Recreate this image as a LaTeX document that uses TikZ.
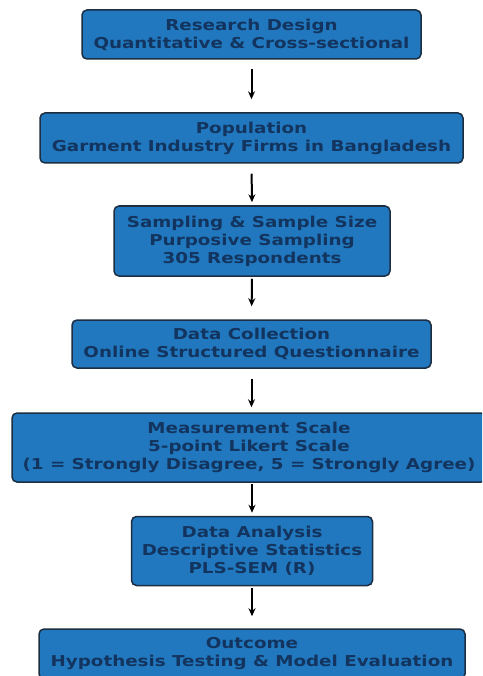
\documentclass[tikz,border=0pt]{standalone}
\usepackage{fontspec}
\usetikzlibrary{arrows.meta,calc}
\newfontfamily\boxfont[FakeStretch=1.22]{DejaVu Sans Bold}
\definecolor{boxblue}{HTML}{2178BE}
\definecolor{boxedge}{HTML}{1C2E42}
\definecolor{boxtext}{HTML}{12345E}
\tikzset{
  stage/.style={draw=boxedge, line width=1.5pt, fill=boxblue, rounded corners=5pt,
    text=boxtext, align=center, inner sep=0pt,
    font=\boxfont\fontsize{15}{18}\selectfont},
  flow/.style={draw=black, line width=2pt, -{Stealth[length=8pt,width=7pt]}}
}
\begin{document}
\begin{tikzpicture}[x=1pt,y=-1pt]
\useasboundingbox (0,0) rectangle (482,676);
\clip (0,0) rectangle (482,676);
\fill[white] (0,0) rectangle (482,676);

\node[stage, minimum width=339pt, minimum height=49pt] (m1) at (251.5,34.5)
  {Research Design\\Quantitative \& Cross-sectional};
\node[stage, minimum width=423pt, minimum height=50pt] (m2) at (251.5,138)
  {Population\\Garment Industry Firms in Bangladesh};
\node[stage, minimum width=276pt, minimum height=70pt] (m3) at (252,241)
  {Sampling \& Sample Size\\Purposive Sampling\\305 Respondents};
\node[stage, minimum width=359pt, minimum height=48pt] (m4) at (251.5,344)
  {Data Collection\\Online Structured Questionnaire};
\node[stage, minimum width=474pt, minimum height=69pt] (m5) at (249,447.5)
  {Measurement Scale\\5-point Likert Scale\\(1 = Strongly Disagree, 5 = Strongly Agree)};
\node[stage, minimum width=241pt, minimum height=69pt] (m6) at (252,551)
  {Data Analysis\\Descriptive Statistics\\PLS-SEM (R)};
\node[stage, minimum width=426pt, minimum height=50pt] (m7) at (252,654)
  {Outcome\\Hypothesis Testing \& Model Evaluation};

\draw[flow, shorten <=9pt, shorten >=13pt] (m1.south) -- (m2.north);
\draw[flow, shorten <=10pt, shorten >=3pt] (m2.south) -- (m3.north);
\draw[flow, shorten <=2pt, shorten >=13pt] (m3.south) -- (m4.north);
\draw[flow, shorten <=10pt, shorten >=5pt] (m4.south) -- (m4.south |- m5.north);
\draw[flow, shorten <=1pt, shorten >=3pt] (m6.north |- m5.south) -- (m6.north);
\draw[flow, shorten <=2pt, shorten >=12pt] (m6.south) -- (m7.north);
\end{tikzpicture}
\end{document}
